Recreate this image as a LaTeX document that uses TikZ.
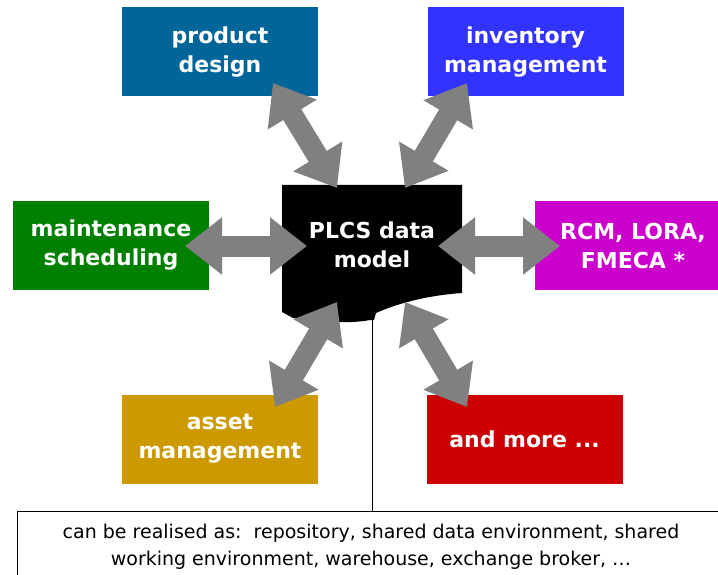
\documentclass[tikz,border=0pt]{standalone}
\usepackage{fontspec}
\usetikzlibrary{arrows.meta}
\newfontfamily\boxfont{DejaVu Sans}
\newfontfamily\notefont{DejaVu Sans}

\definecolor{pdblue}{HTML}{006699}
\definecolor{imblue}{HTML}{3333FF}
\definecolor{msgreen}{HTML}{008000}
\definecolor{rcmmag}{HTML}{CC00CC}
\definecolor{amgold}{HTML}{CC9900}
\definecolor{morered}{HTML}{CC0000}
\definecolor{arrowgray}{HTML}{808080}

\begin{document}
\begin{tikzpicture}[x=1pt,y=-1pt,
  box/.style={minimum width=196pt, minimum height=89pt, inner sep=0pt,
    text=white, align=center,
    font=\boxfont\bfseries\fontsize{22}{29}\selectfont},
  bigarrow/.style={draw=arrowgray, line width=21pt,
    {Triangle[length=37pt,width=55pt]}-{Triangle[length=37pt,width=55pt]}},
  thinline/.style={draw=black, line width=1pt}
]
\useasboundingbox (0,0) rectangle (718,575);

% application boxes
\node[box, fill=pdblue]  (pd)   at (220,52)    {product\\design};
\node[box, fill=imblue]  (im)   at (525.5,52)  {inventory\\management};
\node[box, fill=msgreen] (ms)   at (111,245.5) {maintenance\\scheduling};
\node[box, fill=rcmmag]  (rcm)  at (633,245.5) {RCM, LORA,\\FMECA *};
\node[box, fill=amgold]  (am)   at (220,439)   {asset\\management};
\node[box, fill=morered] (more) at (524.5,439) {and more ...};

% central data model as a document shape
\fill[black] (282,185) -- (462,185) -- (462,293)
  .. controls (420,296) and (392,306) .. (376,313) -- (374,320) -- (370,320)
  .. controls (350,324) and (320,322) .. (293,318) -- (282,312) -- cycle;
\node[box, minimum width=0pt, minimum height=0pt] (plcs) at (372,245) {PLCS data\\model};
\coordinate (plcsfoot) at (372,319);

% realisation note
\node[thinline, minimum width=708pt, minimum height=71pt, inner sep=0pt,
  align=center, font=\notefont\fontsize{19}{27}\selectfont]
  (note) at (371,547)
  {can be realised as:\ \ repository, shared data environment, shared\\
   working environment, warehouse, exchange broker, …};
\draw[thinline] (plcsfoot) -- (note.north -| plcsfoot);

% exchange arrows
\coordinate (pdA) at (273,83);   \coordinate (pdB) at (337,188);
\coordinate (imA) at (467,83);   \coordinate (imB) at (405,188);
\coordinate (msA) at (185,246);  \coordinate (msB) at (307,246);
\coordinate (rcmA) at (560,246); \coordinate (rcmB) at (438,246);
\coordinate (amA) at (275,407);  \coordinate (amB) at (337,302);
\coordinate (moreA) at (467,407);\coordinate (moreB) at (405,302);
\draw[bigarrow] (pdA) -- (pdB);
\draw[bigarrow] (imA) -- (imB);
\draw[bigarrow] (msA) -- (msB);
\draw[bigarrow] (rcmA) -- (rcmB);
\draw[bigarrow] (amA) -- (amB);
\draw[bigarrow] (moreA) -- (moreB);
\end{tikzpicture}
\end{document}
